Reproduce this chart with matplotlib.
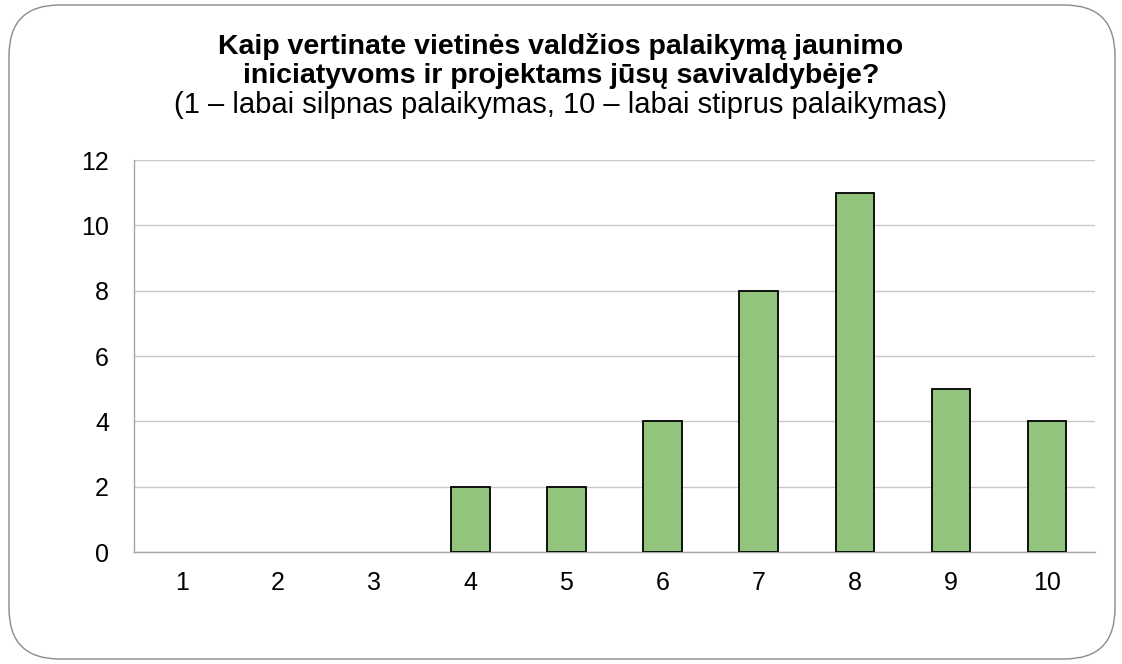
import matplotlib
matplotlib.use("Agg")
import matplotlib.pyplot as plt
import matplotlib.patches as mpatches

# ------------------------------- Data -------------------------------
categories = ["1", "2", "3", "4", "5", "6", "7", "8", "9", "10"]
counts = [0, 0, 0, 2, 2, 4, 8, 11, 5, 4]
yticks = [0, 2, 4, 6, 8, 10, 12]

title_lines = ["Kaip vertinate vietinės valdžios palaikymą jaunimo",
               "iniciatyvoms ir projektams jūsų savivaldybėje?"]
title_sub = "(1 – labai silpnas palaikymas, 10 – labai stiprus palaikymas)"

plt.rcParams['font.family'] = ['Liberation Sans', 'DejaVu Sans']

# ------------------------------- Plot -------------------------------
fig = plt.figure(figsize=(11.22, 6.64), dpi=100, facecolor='w')

# rounded frame around the chart
frame = mpatches.FancyBboxPatch((9 / 1122, 5 / 664), 1106 / 1122, 654 / 664,
                                boxstyle="round,pad=0,rounding_size=0.045",
                                transform=fig.transFigure, facecolor='none',
                                edgecolor='#8c8c8c', linewidth=1.0,
                                mutation_aspect=1122 / 664, zorder=-1)
fig.patches.append(frame)

ax = fig.add_axes([134 / 1122, 1 - 552 / 664, (1095 - 134) / 1122, (552 - 160) / 664])
ax.set_facecolor('none')

x = range(len(categories))
# zero-height bars get no outline
edge_widths = [1.3 if c > 0 else 0 for c in counts]
ax.bar(x, counts, width=0.4, color='#93c47d', edgecolor='black',
       linewidth=edge_widths, zorder=3)

ax.set_xlim(-0.5, len(categories) - 0.5)
ax.set_ylim(0, 12)
ax.set_yticks(yticks)
ax.set_xticks(list(x))
ax.set_xticklabels(categories)
ax.tick_params(axis='both', length=0, labelsize=18, colors='black')
ax.tick_params(axis='x', pad=14)
ax.tick_params(axis='y', pad=18)
ax.grid(axis='y', color='#c8c8c8', linewidth=1.0, zorder=0)

for side in ['top', 'right']:
    ax.spines[side].set_visible(False)
for side in ['left', 'bottom']:
    ax.spines[side].set_color('#a6a6a6')
    ax.spines[side].set_linewidth(1.0)

fig.text(0.5, 1 - 46 / 664, title_lines[0], ha='center', va='center', fontsize=20.5,
         fontweight='bold')
fig.text(0.5, 1 - 76 / 664, title_lines[1], ha='center', va='center', fontsize=20.5,
         fontweight='bold')
fig.text(0.5, 1 - 105 / 664, title_sub, ha='center', va='center', fontsize=21)

plt.savefig("out.png", dpi=100)
